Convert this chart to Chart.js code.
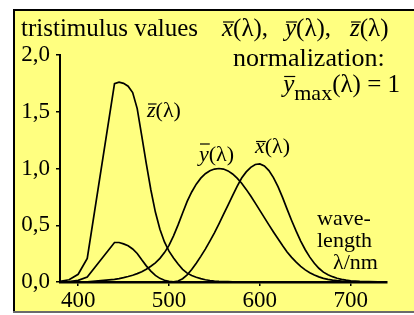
<!DOCTYPE html>
<html>
<head>
<meta charset="utf-8">
<script src="https://cdn.jsdelivr.net/npm/chart.js@4"></script>
<style>
  html, body { margin: 0; padding: 0; background: #fff; }
</style>
</head>
<body>
<canvas id="chart" width="414" height="315"></canvas>
<script>
// wavelengths in nm (420..435 are not in the drawing, the curves go straight there)
const wavelengths = [380, 390, 400, 410,
  440, 445, 450, 455, 460, 465, 470, 475, 480, 485,
  490, 495, 500, 505, 510, 515, 520, 525, 530, 535,
  540, 545, 550, 555, 560, 565, 570, 575, 580, 585,
  590, 595, 600, 605, 610, 615, 620, 625, 630, 635,
  640, 645, 650, 655, 660, 665, 670, 675, 680, 685,
  690, 695, 700, 710, 720, 730, 740];
const xBar = [0.001, 0.004, 0.014, 0.044,
  0.348, 0.348, 0.336, 0.319, 0.291, 0.251, 0.195, 0.142, 0.096, 0.058,
  0.032, 0.015, 0.005, 0.002, 0.009, 0.029, 0.063, 0.110, 0.166, 0.226,
  0.290, 0.360, 0.433, 0.512, 0.595, 0.678, 0.762, 0.843, 0.916, 0.970,
  1.010, 1.035, 1.040, 1.022, 0.982, 0.920, 0.840, 0.745, 0.642, 0.542,
  0.448, 0.361, 0.284, 0.219, 0.165, 0.121, 0.087, 0.064, 0.047, 0.033,
  0.023, 0.016, 0.011, 0.006, 0.003, 0.001, 0.001];
const yBar = [0.000, 0.000, 0.000, 0.001,
  0.023, 0.030, 0.038, 0.048, 0.060, 0.074, 0.091, 0.113, 0.139, 0.169,
  0.208, 0.259, 0.323, 0.407, 0.503, 0.608, 0.710, 0.793, 0.862, 0.915,
  0.954, 0.980, 0.995, 1.000, 0.995, 0.979, 0.952, 0.915, 0.870, 0.816,
  0.757, 0.695, 0.631, 0.567, 0.503, 0.441, 0.381, 0.321, 0.265, 0.217,
  0.175, 0.138, 0.107, 0.082, 0.061, 0.045, 0.032, 0.023, 0.017, 0.012,
  0.008, 0.006, 0.004, 0.002, 0.001, 0.001, 0.000];
const zBar = [0.006, 0.020, 0.068, 0.207,
  1.747, 1.760, 1.750, 1.725, 1.669, 1.528, 1.288, 1.042, 0.813, 0.616,
  0.465, 0.353, 0.272, 0.212, 0.158, 0.112, 0.078, 0.057, 0.042, 0.030,
  0.020, 0.013, 0.009, 0.006, 0.004, 0.003, 0.002, 0.002, 0.002, 0.001,
  0.001, 0.001, 0.001, 0.000, 0.000, 0.000, 0.000, 0.000, 0.000, 0.000,
  0.000, 0.000, 0.000, 0.000, 0.000, 0.000, 0.000, 0.000, 0.000, 0.000,
  0.000, 0.000, 0.000, 0.000, 0.000, 0.000, 0.000];
const xTicks = [400, 500, 600, 700];
const yTicks = [0, 0.5, 1.0, 1.5, 2.0];

const serif = '"Liberation Serif", "Times New Roman", serif';

function points(values) {
  return wavelengths.map((w, i) => ({ x: w, y: values[i] }));
}

// yellow card with frame
const background = {
  id: "background",
  beforeDraw(chart) {
    const ctx = chart.ctx;
    ctx.save();
    ctx.fillStyle = "#ffffff";
    ctx.fillRect(0, 0, 414, 315);
    ctx.fillStyle = "#ffff80";
    ctx.fillRect(14, 9, 400, 302);
    ctx.fillStyle = "#000000";
    ctx.fillRect(13, 9, 401, 2);
    ctx.fillRect(13, 9, 2, 302);
    ctx.fillStyle = "#6b6b6b";
    ctx.fillRect(13, 311, 401, 2);
    ctx.restore();
  }
};

// all the texts, with the bars over x, y, z
const labels = {
  id: "labels",
  afterDraw(chart) {
    const ctx = chart.ctx;
    ctx.save();
    ctx.fillStyle = "#000";
    ctx.strokeStyle = "#000";
    ctx.textBaseline = "alphabetic";
    ctx.textAlign = "left";

    function font(italic, size) {
      ctx.font = (italic ? "italic " : "") + size + "px " + serif;
    }
    function txt(s, x, y, italic, size) {
      font(italic, size || 22);
      ctx.fillText(s, x, y);
      return x + ctx.measureText(s).width;
    }
    function over(x1, x2, y) {
      ctx.lineWidth = 1.2;
      ctx.beginPath();
      ctx.moveTo(x1, y);
      ctx.lineTo(x2, y);
      ctx.stroke();
    }
    function barred(letter, x, y, barY, rest, size) {
      const e = txt(letter, x, y, true, size);
      over(x + 1, e + 1, barY);
      return txt(rest, e, y, false, size);
    }

    txt("tristimulus values", 21, 36, false, 25);
    barred("x", 222, 36, 22, "(\u03bb),", 25);
    barred("y", 285, 36, 22, "(\u03bb),", 25);
    barred("z", 350, 36, 22, "(\u03bb)", 25);

    txt("normalization:", 233, 65.5, false, 26);
    // y max line, right aligned on 400
    font(true, 25);
    const wy = ctx.measureText("y").width;
    font(false, 22);
    const wm = ctx.measureText("max").width;
    font(false, 25);
    const wr = ctx.measureText("(\u03bb) = 1").width;
    const x0 = 400 - wy - wm - wr;
    const e = txt("y", x0, 92, true, 25);
    over(x0 + 1, e + 1, 76.5);
    const m = txt("max", e, 100, false, 22);
    txt("(\u03bb) = 1", m, 92, false, 25);

    barred("z", 147, 117, 104, "(\u03bb)");
    barred("y", 199, 161, 144, "(\u03bb)");
    barred("x", 255, 152.5, 141.5, "(\u03bb)");

    txt("wave-", 317, 225);
    txt("length", 317, 247);
    txt("\u03bb/nm", 333, 269);
    ctx.restore();
  }
};

const curve = { borderColor: "#000", borderWidth: 1.7, pointRadius: 0, tension: 0, fill: false };

new Chart(document.getElementById("chart"), {
  type: "line",
  data: {
    datasets: [
      Object.assign({ label: "x", data: points(xBar) }, curve),
      Object.assign({ label: "y", data: points(yBar) }, curve),
      Object.assign({ label: "z", data: points(zBar) }, curve)
    ]
  },
  options: {
    responsive: false,
    devicePixelRatio: 1,
    animation: false,
    layout: { padding: { left: 0, top: 55, right: 27, bottom: 0 } },
    plugins: { legend: { display: false }, tooltip: { enabled: false } },
    scales: {
      x: {
        type: "linear",
        min: 380,
        max: 740,
        afterBuildTicks: (s) => { s.ticks = xTicks.map((v) => ({ value: v })); },
        afterFit: (s) => { s.height = 33; },
        ticks: { color: "#000", font: { family: serif, size: 23 }, padding: 1, maxRotation: 0 },
        grid: { drawOnChartArea: false, drawTicks: true, tickLength: 4, color: "#000", lineWidth: 1.5 },
        border: { color: "#000", width: 2.5 }
      },
      y: {
        min: 0,
        max: 2,
        afterBuildTicks: (s) => { s.ticks = yTicks.map((v) => ({ value: v })); },
        afterFit: (s) => { s.width = 60; },
        ticks: { color: "#000", font: { family: serif, size: 23 }, padding: 6, callback: (v) => v.toFixed(1).replace(".", ",") },
        grid: { drawOnChartArea: false, drawTicks: true, tickLength: 4, color: "#000", lineWidth: 1.5 },
        border: { color: "#000", width: 2 }
      }
    }
  },
  plugins: [background, labels]
});
</script>
</body>
</html>
